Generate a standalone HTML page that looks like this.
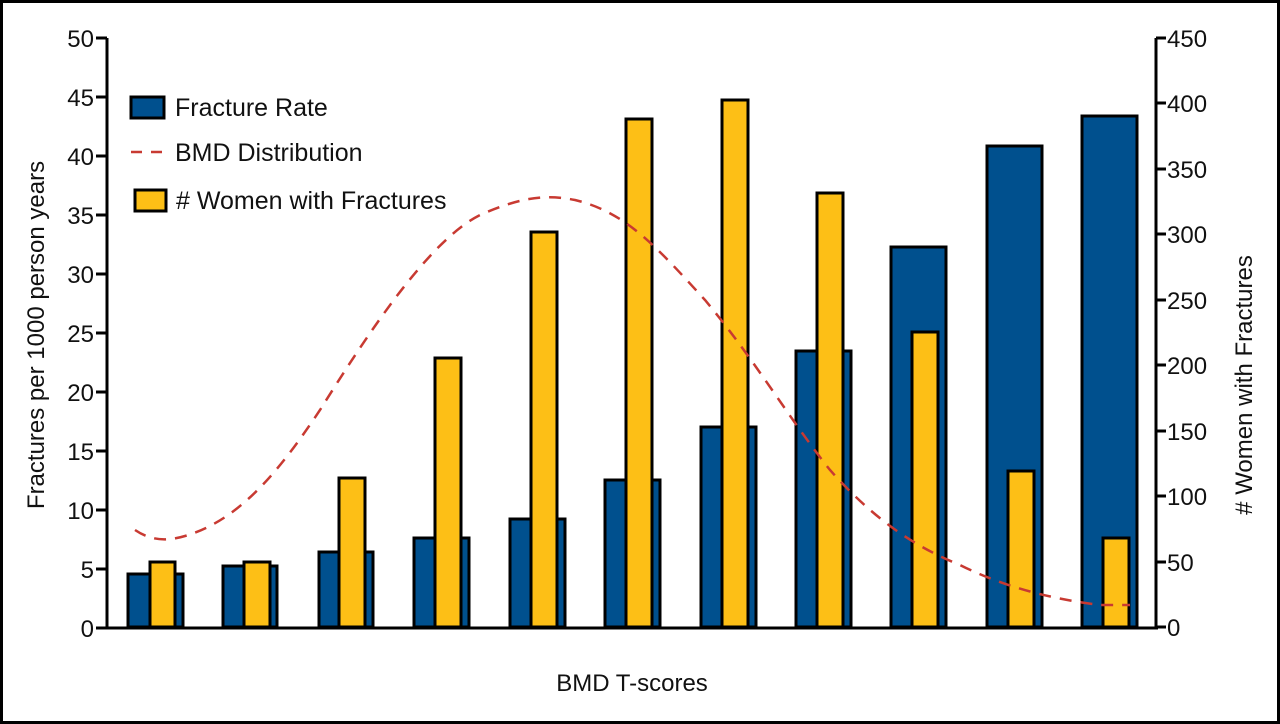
<!DOCTYPE html>
<html><head><style>
body{margin:0;background:#fff}
svg{display:block}
text{font-family:"Liberation Sans",sans-serif;fill:#111}
</style></head><body>
<svg width="1280" height="724" viewBox="0 0 1280 724">
<rect x="1.5" y="1.5" width="1277" height="721" fill="#fff" stroke="#000" stroke-width="3"/>
<g id="bars" stroke="#000" stroke-width="3">
<rect x="128" y="574" width="55" height="53" fill="#00508e"/>
<rect x="150" y="562" width="25" height="65" fill="#fdbf16"/>
<rect x="223" y="566" width="54" height="61" fill="#00508e"/>
<rect x="244" y="562" width="26" height="65" fill="#fdbf16"/>
<rect x="319" y="552" width="54" height="75" fill="#00508e"/>
<rect x="339" y="478" width="26" height="149" fill="#fdbf16"/>
<rect x="414" y="538" width="55" height="89" fill="#00508e"/>
<rect x="435" y="358" width="26" height="269" fill="#fdbf16"/>
<rect x="510" y="519" width="55" height="108" fill="#00508e"/>
<rect x="531" y="232" width="26" height="395" fill="#fdbf16"/>
<rect x="605" y="480" width="55" height="147" fill="#00508e"/>
<rect x="626" y="119" width="26" height="508" fill="#fdbf16"/>
<rect x="701" y="427" width="55" height="200" fill="#00508e"/>
<rect x="722" y="100" width="26" height="527" fill="#fdbf16"/>
<rect x="796" y="351" width="55" height="276" fill="#00508e"/>
<rect x="817" y="193" width="26" height="434" fill="#fdbf16"/>
<rect x="891" y="247" width="55" height="380" fill="#00508e"/>
<rect x="912" y="332" width="26" height="295" fill="#fdbf16"/>
<rect x="987" y="146" width="55" height="481" fill="#00508e"/>
<rect x="1008" y="471" width="26" height="156" fill="#fdbf16"/>
<rect x="1082" y="116" width="55" height="511" fill="#00508e"/>
<rect x="1103" y="538" width="26" height="89" fill="#fdbf16"/>
</g>
<path d="M135,530 C150,540 165,542 185,536 C240,520 280,470 320,410 C370,330 430,240 480,215 C525,195 550,195 575,200 C625,212 655,245 705,300 C755,360 790,420 830,470 C870,515 910,545 960,565 C1010,590 1060,600 1100,605 L1130,605" fill="none" stroke="#c83a32" stroke-width="2.5" stroke-dasharray="12,9"/>
<g stroke="#000" stroke-width="3" fill="none">
<path d="M107,38 V628 M1156,38 V628 M107,628 H1158"/>
<path d="M96,38H107M96,97H107M96,156H107M96,215H107M96,274H107M96,333H107M96,392H107M96,451H107M96,510H107M96,569H107M96,628H107"/>
<path d="M1156,38H1166M1156,103H1166M1156,169H1166M1156,234H1166M1156,300H1166M1156,365H1166M1156,431H1166M1156,496H1166M1156,562H1166M1156,627H1166"/>
</g>
<g font-size="24" text-anchor="end">
<text x="94" y="47">50</text><text x="94" y="106">45</text><text x="94" y="165">40</text><text x="94" y="224">35</text><text x="94" y="283">30</text><text x="94" y="342">25</text><text x="94" y="401">20</text><text x="94" y="460">15</text><text x="94" y="519">10</text><text x="94" y="578">5</text><text x="94" y="637">0</text>
</g>
<g font-size="24">
<text x="1167" y="47">450</text><text x="1167" y="112">400</text><text x="1167" y="178">350</text><text x="1167" y="243">300</text><text x="1167" y="309">250</text><text x="1167" y="374">200</text><text x="1167" y="440">150</text><text x="1167" y="505">100</text><text x="1167" y="571">50</text><text x="1167" y="636">0</text>
</g>
<text transform="translate(44,335) rotate(-90)" font-size="24" text-anchor="middle">Fractures per 1000 person years</text>
<text transform="translate(1252,385) rotate(-90)" font-size="24" text-anchor="middle"># Women with Fractures</text>
<text x="632" y="691" font-size="24" text-anchor="middle">BMD T-scores</text>
<rect x="131" y="97" width="33" height="21" fill="#00508e" stroke="#000" stroke-width="3"/>
<text x="175" y="116" font-size="25">Fracture Rate</text>
<path d="M131,152 H164" stroke="#c83a32" stroke-width="2.5" stroke-dasharray="11,9"/>
<text x="175" y="161" font-size="25">BMD Distribution</text>
<rect x="135" y="190" width="31" height="21" fill="#fdbf16" stroke="#000" stroke-width="3"/>
<text x="176" y="209" font-size="25"># Women with Fractures</text>
</svg>
</body></html>
